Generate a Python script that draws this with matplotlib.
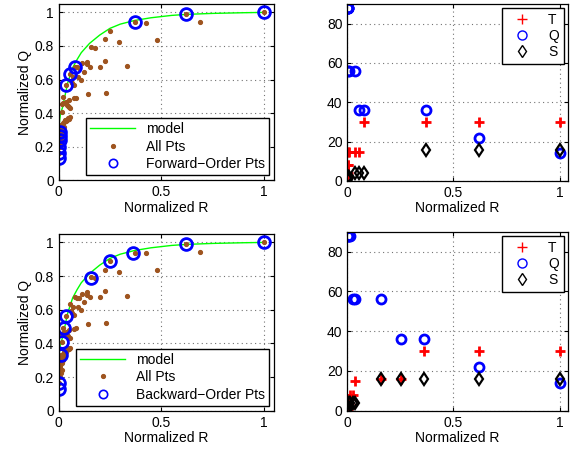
import numpy as np
import matplotlib
matplotlib.use('Agg')
import matplotlib.pyplot as plt

plt.rcParams['font.family'] = ['Liberation Sans', 'DejaVu Sans']
plt.rcParams['font.size'] = 10

# model curve
model_R = [0.0, 0.003, 0.008, 0.015, 0.02, 0.03, 0.044, 0.068, 0.09, 0.11, 0.15,
           0.2, 0.25, 0.3, 0.37, 0.45, 0.55, 0.62, 0.75, 0.9, 1.0]
model_Q = [0.28, 0.34, 0.39, 0.42, 0.44, 0.50, 0.58, 0.67, 0.72, 0.76, 0.815,
           0.865, 0.905, 0.93, 0.952, 0.968, 0.982, 0.988, 0.994, 0.998, 1.0]

# all points cloud
all_R = [1.0, 0.62, 0.69, 0.37, 0.425, 0.251, 0.479, 0.228, 0.296, 0.156,
         0.176, 0.332, 0.138, 0.226, 0.14, 0.155, 0.112, 0.203, 0.088, 0.08,
         0.1, 0.122, 0.093, 0.109, 0.057, 0.06, 0.076, 0.036, 0.064, 0.142,
         0.23, 0.076, 0.084, 0.023, 0.049, 0.036, 0.052, 0.022, 0.018, 0.039,
         0.055, 0.047, 0.039, 0.034, 0.055, 0.027, 0.02, 0.011, 0.049, 0.022,
         0.015, 0.006, 0.015, 0.013, 0.0015, 0.008, 0.004, 0.01, 0.003, 0.005,
         0.002, 0.071, 0.03, 0.045, 0.016, 0.026]
all_Q = [1.0, 0.99, 0.944, 0.94, 0.936, 0.89, 0.835, 0.839, 0.826, 0.795,
         0.786, 0.68, 0.706, 0.713, 0.69, 0.676, 0.696, 0.676, 0.672, 0.676,
         0.67, 0.643, 0.617, 0.597, 0.635, 0.59, 0.567, 0.565, 0.58, 0.514,
         0.519, 0.488, 0.49, 0.494, 0.478, 0.468, 0.434, 0.462, 0.457, 0.45,
         0.431, 0.371, 0.361, 0.351, 0.375, 0.349, 0.339, 0.329, 0.365, 0.302,
         0.282, 0.252, 0.242, 0.222, 0.202, 0.29, 0.265, 0.31, 0.24, 0.2,
         0.165, 0.616, 0.36, 0.445, 0.408, 0.32]

# forward order sweep
fwd_R = [0.001, 0.002, 0.003, 0.004, 0.005, 0.007, 0.036, 0.057, 0.08, 0.37, 0.62, 1.0]
fwd_Qn = [0.13, 0.165, 0.20, 0.24, 0.265, 0.29, 0.565, 0.635, 0.676, 0.94, 0.99, 1.0]
fwd_T = [2, 4, 8, 8, 15, 15, 15, 15, 30, 30, 30, 30]
fwd_Qp = [88, 88, 88, 88, 56, 56, 56, 36, 36, 36, 22, 14]
fwd_S = [1, 1, 1, 2, 2, 2, 4, 4, 4, 16, 16, 16]

# backward order sweep
bwd_R = [1.0, 0.62, 0.36, 0.252, 0.158, 0.036, 0.026, 0.015, 0.01, 0.002, 0.001]
bwd_Qn = [1.0, 0.99, 0.94, 0.887, 0.79, 0.564, 0.494, 0.41, 0.33, 0.163, 0.127]
bwd_T = [30, 30, 30, 16, 16, 15, 8, 8, 4, 2, 1]
bwd_Qp = [14, 22, 36, 36, 56, 56, 56, 88, 88, 88, 88]
bwd_S = [16, 16, 16, 16, 16, 4, 4, 4, 4, 2, 1]

brown = (0.62, 0.33, 0.12)

fig = plt.figure(figsize=(5.79, 4.53), dpi=100)
W, H = 579.0, 453.0


def ax_at(x0, y0, x1, y1):
    return fig.add_axes([x0 / W, 1 - y1 / H, (x1 - x0) / W, (y1 - y0) / H])


def style(ax):
    ax.grid(True, linestyle=(0, (1, 3)), color='0.45', linewidth=0.8)
    ax.tick_params(direction='in', top=True, right=True, length=3, labelsize=10)
    for s in ax.spines.values():
        s.set_linewidth(0.9)
    ax.set_axisbelow(True)


def left_panel(ax, R, Qn, label):
    ax.plot(model_R, model_Q, color=(0, 1, 0), lw=1.0, label='model')
    ax.plot(all_R, all_Q, '.', color=brown, ms=5.5, label='All Pts')
    ax.plot(R, Qn, 'o', mfc='none', mec='blue', mew=2.0, ms=8.5, ls='none', label=label)
    ax.set_xlim(0, 1.05)
    ax.set_ylim(0, 1.05)
    ax.set_xticks([0, 0.5, 1])
    ax.set_xticklabels(['0', '0.5', '1'])
    ax.set_yticks([0, 0.2, 0.4, 0.6, 0.8, 1])
    ax.set_yticklabels(['0', '0.2', '0.4', '0.6', '0.8', '1'])
    ax.set_xlabel('Normalized R', labelpad=1)
    ax.set_ylabel('Normalized Q', labelpad=2)
    style(ax)
    leg = ax.legend(loc='lower right', fancybox=False, edgecolor='black',
                    borderaxespad=0.35, handlelength=3.2, labelspacing=0.25,
                    borderpad=0.3, framealpha=1, fontsize=10)
    leg.get_frame().set_linewidth(1.0)
    leg.legend_handles[2].set_markeredgewidth(1.2)
    leg.legend_handles[2].set_markersize(6)


def right_panel(ax, R, T, Qp, S):
    ax.plot(R, T, '+', color='red', mew=2.0, ms=7, ls='none', label='T')
    ax.plot(R, Qp, 'o', mfc='none', mec='blue', mew=2.0, ms=6.5, ls='none', label='Q')
    ax.plot(R, S, 'd', mfc='none', mec='black', mew=1.6, ms=6.5, ls='none', label='S')
    ax.set_xlim(0, 1.04)
    ax.set_ylim(0, 90)
    ax.set_xticks([0, 0.5, 1])
    ax.set_xticklabels(['0', '0.5', '1'])
    ax.set_yticks([0, 20, 40, 60, 80])
    ax.set_xlabel('Normalized R', labelpad=1)
    style(ax)
    leg = ax.legend(loc='upper right', fancybox=False, edgecolor='black',
                    borderaxespad=0.3, handlelength=2.2, labelspacing=0.15,
                    borderpad=0.35, framealpha=1, fontsize=10)
    leg.get_frame().set_linewidth(1.0)
    for h in leg.legend_handles:
        h.set_markeredgewidth(1.0)


ax1 = ax_at(58.7, 4, 274, 180.3)
left_panel(ax1, fwd_R, fwd_Qn, 'Forward\u2212Order Pts')
ax2 = ax_at(347.3, 4, 568, 181)
right_panel(ax2, fwd_R, fwd_T, fwd_Qp, fwd_S)
ax3 = ax_at(58.7, 234, 274, 410.7)
left_panel(ax3, bwd_R, bwd_Qn, 'Backward\u2212Order Pts')
ax4 = ax_at(347.3, 231.7, 568, 410.7)
right_panel(ax4, bwd_R, bwd_T, bwd_Qp, bwd_S)

fig.savefig('out.png', dpi=100)
